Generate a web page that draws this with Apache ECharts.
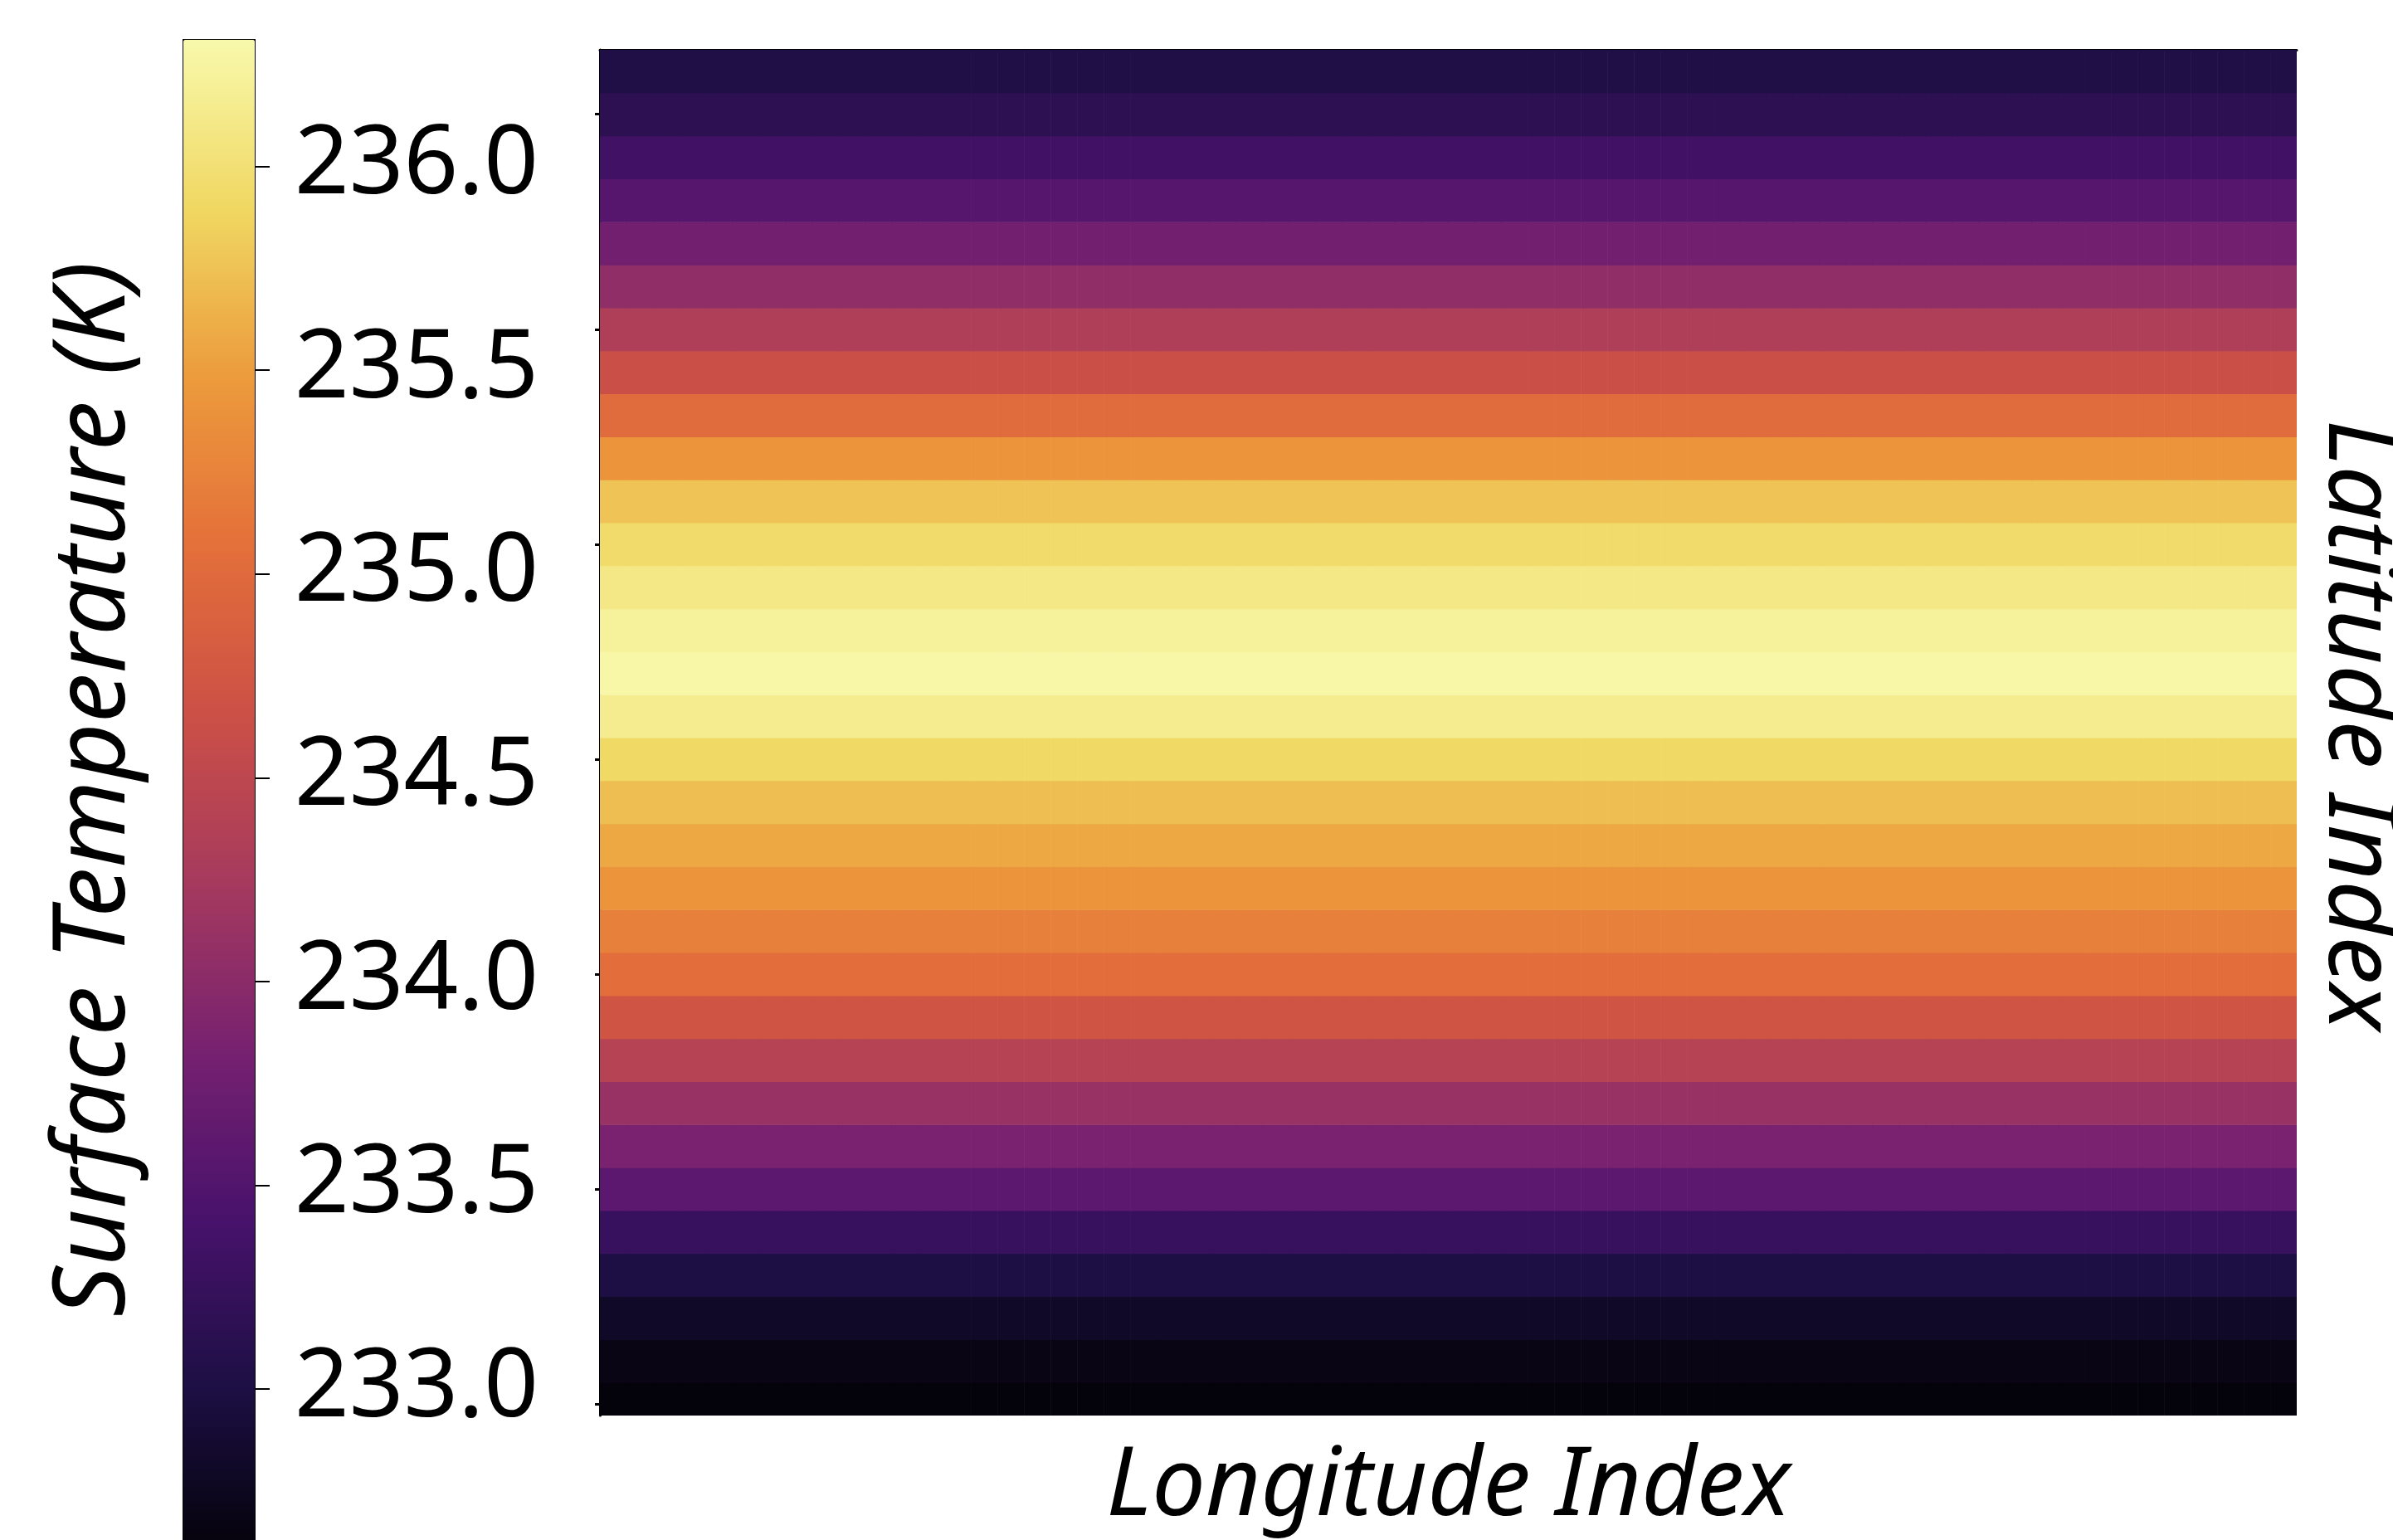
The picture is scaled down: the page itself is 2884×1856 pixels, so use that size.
<!DOCTYPE html>
<html>
<head>
<meta charset="utf-8">
<script src="https://cdn.jsdelivr.net/npm/echarts@6/dist/echarts.min.js"></script>
<style>
  html, body { margin: 0; padding: 0; background: #fff; }
  #chart { width: 2884px; height: 1856px; }
</style>
</head>
<body>
<div id="chart"></div>
<script>
  // latitude rows, index 0 = bottom row
  const latIndex = [
    0, 1, 2, 3, 4, 5, 6, 7, 8, 9, 10, 11, 12, 13, 14, 15,
    16, 17, 18, 19, 20, 21, 22, 23, 24, 25, 26, 27, 28, 29, 30, 31,
  ];
  // zonal surface temperature per latitude row (K)
  const latTemp = [
    232.65, 232.72, 232.85, 233.04, 233.30, 233.62, 233.88, 234.14,
    234.43, 234.73, 235.06, 235.24, 235.43, 235.58, 235.73, 235.92,
    236.15, 236.28, 236.22, 236.10, 235.95, 235.76, 235.43, 235.02,
    234.65, 234.36, 234.07, 233.81, 233.57, 233.37, 233.18, 233.07,
  ];
  const lonCount = 64;
  const latTicks = [0, 5, 10, 15, 20, 25, 30];
  const cbarTicks = [233.0, 233.5, 234.0, 234.5, 235.0, 235.5, 236.0];
  const vmin = 232.63;
  const vmax = 236.31;
  const inferno = [
    "#030208", "#1d0f44", "#48126c", "#772170", "#a63a5e",
    "#cc5046", "#e4703a", "#ec9b3c", "#f0d862", "#f8f9ac",
  ];

  const cells = [];
  latIndex.forEach((lat, i) => {
    for (let lon = 0; lon < lonCount; lon++) {
      cells.push([lon, lat, latTemp[i]]);
    }
  });

  const chart = echarts.init(document.getElementById("chart"));
  const font = "Noto Sans";

  chart.setOption({
    animation: false,
    backgroundColor: "#fff",
    grid: [
      { left: 723, top: 60, width: 2045, height: 1647 },
      { left: 221, top: 48, width: 86, height: 1827 },
    ],
    xAxis: [
      {
        gridIndex: 0,
        type: "value",
        min: 0,
        max: lonCount,
        axisLine: { show: false },
        axisTick: { show: false },
        axisLabel: { show: false },
        splitLine: { show: false },
        name: "Longitude Index",
        nameLocation: "middle",
        nameGap: 30,
        nameTextStyle: {
          fontFamily: font,
          fontStyle: "italic",
          fontSize: 115,
          color: "#000",
          verticalAlign: "top",
        },
      },
      {
        gridIndex: 0,
        type: "value",
        position: "top",
        min: 0,
        max: lonCount,
        axisLine: { show: true, lineStyle: { color: "#000", width: 3 } },
        axisTick: { show: false },
        axisLabel: { show: false },
        splitLine: { show: false },
      },
      {
        gridIndex: 1,
        type: "value",
        position: "top",
        min: 0,
        max: 1,
        axisLine: { show: true, lineStyle: { color: "#000", width: 2 } },
        axisTick: { show: false },
        axisLabel: { show: false },
        splitLine: { show: false },
      },
    ],
    yAxis: [
      {
        gridIndex: 0,
        type: "value",
        min: -0.27,
        max: 31.5,
        axisLine: { show: true, lineStyle: { color: "#000", width: 3 } },
        axisTick: {
          show: true,
          length: 6,
          customValues: latTicks,
          lineStyle: { color: "#000", width: 3 },
        },
        axisLabel: { show: false },
        splitLine: { show: false },
      },
      {
        gridIndex: 1,
        type: "value",
        position: "left",
        min: vmin,
        max: vmax,
        axisLine: { show: true, lineStyle: { color: "#000", width: 2 } },
        axisTick: { show: false },
        axisLabel: { show: false },
        splitLine: { show: false },
      },
      {
        gridIndex: 1,
        type: "value",
        position: "right",
        min: vmin,
        max: vmax,
        axisLine: { show: true, lineStyle: { color: "#000", width: 2 } },
        axisTick: {
          show: true,
          length: 18,
          customValues: cbarTicks,
          lineStyle: { color: "#000", width: 2 },
        },
        axisLabel: {
          show: true,
          customValues: cbarTicks,
          margin: 48,
          fontFamily: font,
          fontSize: 115,
          color: "#000",
          formatter: (v) => v.toFixed(1),
        },
        splitLine: { show: false },
      },
    ],
    visualMap: {
      type: "continuous",
      min: vmin,
      max: vmax,
      dimension: 2,
      seriesIndex: 0,
      orient: "vertical",
      left: 221,
      top: 48,
      padding: 0,
      itemWidth: 86,
      itemHeight: 1827,
      calculable: false,
      hoverLink: false,
      text: null,
      inRange: { color: inferno },
    },
    graphic: [
      {
        type: "text",
        x: 116,
        y: 951,
        rotation: Math.PI / 2,
        style: {
          text: "Surface Temperature (K)",
          font: `italic 120px "${font}"`,
          fill: "#000",
          align: "center",
          verticalAlign: "middle",
        },
      },
      {
        type: "text",
        x: 2840,
        y: 874,
        rotation: -Math.PI / 2,
        style: {
          text: "Latitude Index",
          font: `italic 116px "${font}"`,
          fill: "#000",
          align: "center",
          verticalAlign: "middle",
        },
      },
    ],
    series: [
      {
        type: "custom",
        xAxisIndex: 0,
        yAxisIndex: 0,
        encode: { x: 0, y: 1 },
        data: cells,
        renderItem(params, api) {
          const lon = api.value(0);
          const lat = api.value(1);
          const p0 = api.coord([lon, lat + 0.5]);
          const p1 = api.coord([lon + 1, lat - 0.5]);
          const rect = echarts.graphic.clipRectByRect(
            {
              x: p0[0],
              y: p0[1],
              width: p1[0] - p0[0] + 0.6,
              height: p1[1] - p0[1] + 0.6,
            },
            {
              x: params.coordSys.x,
              y: params.coordSys.y,
              width: params.coordSys.width,
              height: params.coordSys.height,
            }
          );
          return (
            rect && {
              type: "rect",
              shape: rect,
              style: { fill: api.visual("color") },
            }
          );
        },
        z: 1,
      },
    ],
  });
</script>
</body>
</html>
